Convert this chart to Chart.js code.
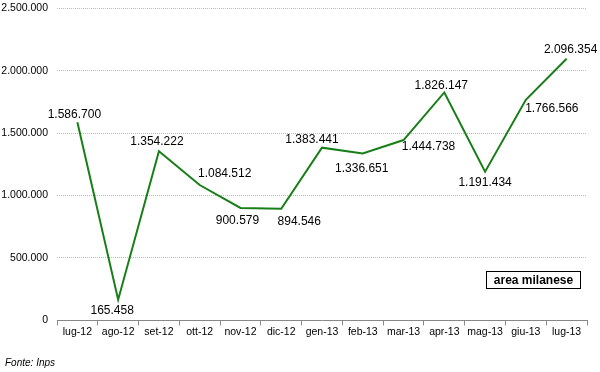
<!DOCTYPE html>
<html>
<head>
<meta charset="utf-8">
<script src="https://cdn.jsdelivr.net/npm/chart.js@4"></script>
<style>
    html, body { margin: 0; padding: 0; background: #fff; }
    #wrap { position: relative; width: 600px; height: 372px; }
</style>
</head>
<body>
<div id="wrap"><canvas id="lineChart" width="600" height="372"></canvas></div>
<script>
/* ===== DATA ===== */
const months = ['lug-12', 'ago-12', 'set-12', 'ott-12', 'nov-12', 'dic-12', 'gen-13',
    'feb-13', 'mar-13', 'apr-13', 'mag-13', 'giu-13', 'lug-13'];
const values = [1586700, 165458, 1354222, 1084512, 900579, 894546, 1383441,
    1336651, 1444738, 1826147, 1191434, 1766566, 2096354];
const yTicks = [0, 500000, 1000000, 1500000, 2000000, 2500000];

// label offsets from the point (style only)
const labelShift = [[-3, -8], [-6, 11], [-2, -10], [25, -11], [-3, 13], [18, 13], [-10, -8],
    [-1, 15], [25, 7], [-3, -7], [0, 11], [26, 9], [4, -9]];

/* ===== HELPERS ===== */
function formatIt(num) {
    if (num === 0) return '0';
    return String(num).replace(/\B(?=(\d{3})+(?!\d))/g, '.');
}

/* ===== PLUGINS ===== */
const extraText = {
    id: 'extraText',
    afterDatasetsDraw(chart) {
        const ctx = chart.ctx;
        const meta = chart.getDatasetMeta(0);
        ctx.save();
        ctx.fillStyle = '#000';
        ctx.font = '12px "Liberation Sans", Arial, sans-serif';
        ctx.textAlign = 'center';
        ctx.textBaseline = 'middle';
        meta.data.forEach((pt, i) => {
            ctx.fillText(formatIt(values[i]), pt.x + labelShift[i][0], pt.y + labelShift[i][1]);
        });

        // box label
        ctx.font = 'bold 12px "Liberation Sans", Arial, sans-serif';
        const text = 'area milanese';
        const w = 94;
        const x = 486, y = 271;
        ctx.fillStyle = '#fff';
        ctx.fillRect(x, y, w, 17);
        ctx.strokeStyle = '#000';
        ctx.lineWidth = 1;
        ctx.strokeRect(x + 0.5, y + 0.5, w, 17);
        ctx.fillStyle = '#000';
        ctx.textAlign = 'center';
        ctx.fillText(text, x + w / 2 + 0.5, y + 9.5);

        // source
        ctx.textAlign = 'left';
        ctx.font = 'italic 10px "Liberation Sans", Arial, sans-serif';
        ctx.fillText('Fonte: Inps', 5, 363);
        ctx.restore();
    }
};

/* ===== CHART ===== */
const ctx = document.getElementById('lineChart').getContext('2d');
new Chart(ctx, {
    type: 'line',
    data: {
        labels: months,
        datasets: [{
            data: values,
            borderColor: '#187f18',
            borderWidth: 2,
            pointRadius: 0,
            tension: 0,
            fill: false
        }]
    },
    options: {
        responsive: false,
        animation: false,
        layout: { padding: { top: 2, right: 13, bottom: 34, left: 0 } },
        plugins: {
            legend: { display: false },
            tooltip: { enabled: false }
        },
        scales: {
            x: {
                offset: true,
                grid: {
                    offset: true,
                    drawOnChartArea: false,
                    drawTicks: true,
                    tickLength: 5,
                    color: '#888'
                },
                border: { color: '#888', width: 1 },
                ticks: {
                    color: '#000',
                    padding: 0,
                    maxRotation: 0,
                    autoSkip: false,
                    font: { family: '"Liberation Sans", Arial, sans-serif', size: 10.5 }
                }
            },
            y: {
                min: 0,
                max: 2500000,
                afterFit(scale) { scale.width = 57; },
                afterBuildTicks(scale) { scale.ticks = yTicks.map(v => ({ value: v })); },
                grid: {
                    color: '#bbb',
                    drawTicks: true,
                    tickLength: 7,
                    tickColor: 'rgba(0,0,0,0)'
                },
                border: { display: false, dash: [1, 1] },
                ticks: {
                    color: '#000',
                    padding: 2,
                    font: { family: '"Liberation Sans", Arial, sans-serif', size: 10.5 },
                    callback: v => formatIt(v)
                }
            }
        }
    },
    plugins: [extraText]
});
</script>
</body>
</html>
